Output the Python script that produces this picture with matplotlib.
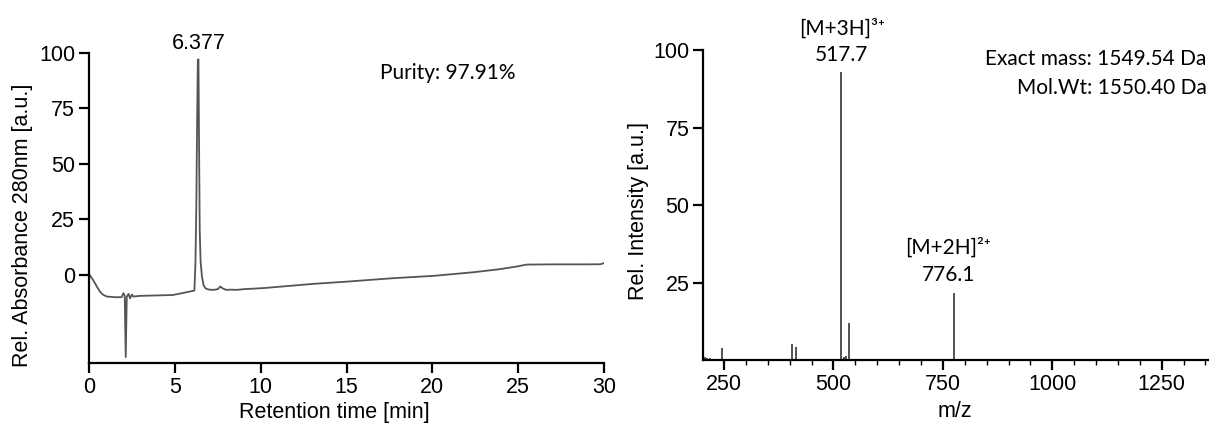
import matplotlib.pyplot as plt
from matplotlib.ticker import MultipleLocator

# HPLC trace (retention time [min], rel. absorbance)
rt = [0.0, 0.2, 0.35, 0.5, 0.64, 0.8, 1.03, 1.5, 1.9, 2.0, 2.08, 2.14, 2.2, 2.3,
      2.39, 2.5, 2.58, 3.0, 4.0, 4.9, 5.6, 6.14, 6.2, 6.25, 6.3, 6.34, 6.377,
      6.41, 6.45, 6.5, 6.58, 6.68, 6.8, 7.0, 7.26, 7.5, 7.65, 7.8, 8.0, 8.3,
      8.6, 9.0, 10.15, 12.3, 13.05, 15.0, 16.9, 17.8, 20.05, 22.4, 23.9, 24.9,
      25.5, 27.0, 29.0, 29.8, 30.0]
absorb = [0.3, -2.0, -3.9, -6.0, -7.7, -9.0, -9.9, -10.2, -10.2, -8.4, -9.5, -37.2,
          -10.0, -8.7, -10.7, -9.0, -9.9, -9.6, -9.4, -9.2, -8.1, -7.2, 5.0, 30.0,
          70.0, 96.7, 97.0, 60.0, 20.0, 6.0, -1.0, -5.0, -6.3, -6.8, -6.9, -6.6,
          -5.4, -6.3, -6.9, -6.8, -6.9, -6.6, -6.1, -4.7, -4.2, -3.2, -2.1, -1.6,
          -0.6, 1.05, 2.4, 3.6, 4.5, 4.6, 4.6, 4.65, 5.2]

# ESI-MS spectrum (m/z, rel. intensity)
mz = [206, 212, 218, 226, 244.7, 404.7, 415, 517.7, 523, 528, 536, 776.1]
intensity = [1.0, 0.6, 0.7, 0.4, 3.9, 5.3, 4.3, 92.8, 1.2, 1.4, 11.9, 21.8]

W, H = 1209, 425
fig = plt.figure(figsize=(W / 100, H / 100), dpi=100)
plt.rcParams['font.family'] = 'Liberation Sans'
note_font = ['Lato', 'Noto Sans', 'DejaVu Sans']
note_size = 15

# left panel: chromatogram
ax1 = fig.add_axes([89 / W, 1 - 363.3 / H, 515 / W, 310.6 / H])
ax1.plot(rt, absorb, color='#555555', lw=1.3)
ax1.set_xlim(0, 30)
ax1.set_ylim(-40, 100)
ax1.set_xticks([0, 5, 10, 15, 20, 25, 30])
ax1.set_yticks([0, 25, 50, 75, 100])
ax1.set_ylabel('Rel. Absorbance 280nm [a.u.]', fontsize=15.5)
ax1.set_xlabel('Retention time [min]', fontsize=15.5)
ax1.yaxis.set_label_coords(-0.108, 0.443)
ax1.xaxis.set_label_coords(0.477, -0.125)
ax1.text(6.377, 104.0, '6.377', ha='center', va='center', fontsize=15.5, clip_on=False)
ax1.text(20.9, 91, 'Purity: 97.91%', ha='center', va='center', fontsize=note_size,
         family=note_font)

# right panel: mass spectrum
ax2 = fig.add_axes([703.3 / W, 1 - 360.3 / H, (W - 703.3) / W, 310.3 / H])
ax2.vlines(mz, 0, intensity, color='#333333', lw=1.2)
ax2.set_xlim(202.7, 1358)
ax2.set_ylim(0, 100)
ax2.set_xticks([250, 500, 750, 1000, 1250])
ax2.xaxis.set_minor_locator(MultipleLocator(50))
ax2.set_yticks([25, 50, 75, 100])
ax2.set_ylabel('Rel. Intensity [a.u.]', fontsize=15.5)
ax2.set_xlabel('m/z', fontsize=15.5)
ax2.yaxis.set_label_coords(-0.107, 0.482)
ax2.xaxis.set_label_coords(0.498, -0.131)
ax2.text(519, 106.9, '[M+3H]³⁺', ha='center', va='center', fontsize=note_size,
         family=note_font, clip_on=False)
ax2.text(519, 98.5, '517.7', ha='center', va='center', fontsize=note_size,
         family=note_font, clip_on=False)
ax2.text(762, 36.2, '[M+2H]²⁺', ha='center', va='center', fontsize=note_size,
         family=note_font)
ax2.text(762, 27.5, '776.1', ha='center', va='center', fontsize=note_size,
         family=note_font)
ax2.text(1353, 97.2, 'Exact mass: 1549.54 Da', ha='right', va='center',
         fontsize=note_size, family=note_font, clip_on=False)
ax2.text(1353, 87.9, 'Mol.Wt: 1550.40 Da', ha='right', va='center',
         fontsize=note_size, family=note_font, clip_on=False)

for ax in (ax1, ax2):
    ax.spines['top'].set_visible(False)
    ax.spines['right'].set_visible(False)
    ax.spines['left'].set_linewidth(1.6)
    ax.spines['bottom'].set_linewidth(1.6)
    ax.tick_params(which='major', direction='out', length=7, width=1.6,
                   labelsize=15.5, pad=3)
    ax.tick_params(which='minor', direction='out', length=3.5, width=1.0)

fig.savefig('out.png', dpi=100)
